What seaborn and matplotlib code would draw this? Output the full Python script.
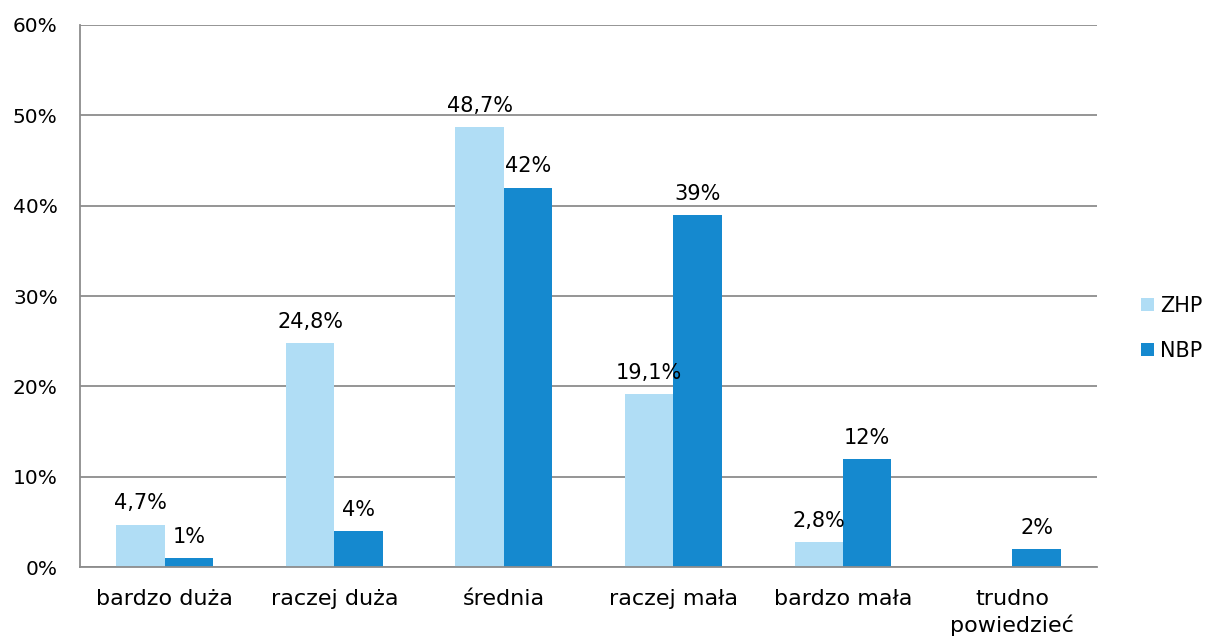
import numpy as np
import pandas as pd
import matplotlib
matplotlib.use("Agg")
import matplotlib.pyplot as plt
import seaborn as sns

# Data
categories = ["bardzo duża", "raczej duża", "średnia", "raczej mała", "bardzo mała", "trudno\npowiedzieć"]
zhp = [4.7, 24.8, 48.7, 19.1, 2.8, np.nan]
nbp = [1, 4, 42, 39, 12, 2]
series = ["ZHP", "NBP"]
colors = ["#B0DDF5", "#1589CF"]

df = pd.DataFrame({
    "kategoria": categories * 2,
    "seria": ["ZHP"] * len(categories) + ["NBP"] * len(categories),
    "wartosc": zhp + nbp,
})

sns.set_style("white")
plt.rcParams["font.family"] = ["DejaVu Sans"]
plt.rcParams["text.color"] = "black"
plt.rcParams["xtick.color"] = "black"
plt.rcParams["ytick.color"] = "black"
grey = "#8C8C8C"

fig = plt.figure(figsize=(12.08, 6.41), dpi=100)
ax = fig.add_axes([0.0662, 0.1154, 0.842, 0.8456])

sns.barplot(data=df, x="kategoria", y="wartosc", hue="seria", hue_order=series,
            palette=colors, width=0.57, ax=ax, saturation=1, errorbar=None,
            linewidth=0, legend=True)

# data labels with decimal comma
for cont in ax.containers:
    for bar in cont:
        h = bar.get_height()
        if np.isnan(h):
            continue
        txt = (f"{h:.1f}" if h != int(h) else f"{int(h)}").replace(".", ",") + "%"
        ax.annotate(txt, (bar.get_x() + bar.get_width() / 2, h), xytext=(0, 8),
                    textcoords="offset points", ha="center", va="bottom", fontsize=15)

ax.set_ylim(0, 60)
ax.set_xlim(-0.5, 5.5)
ax.set_yticks(range(0, 61, 10))
ax.set_yticklabels([f"{v}%" for v in range(0, 61, 10)], fontsize=14.5)
ax.yaxis.grid(True, color=grey, linewidth=1.3)
ax.set_axisbelow(True)
ax.set_xlabel("")
ax.set_ylabel("")

ax.tick_params(axis="x", which="major", length=0, pad=16, labelsize=16)
ax.set_xticks(np.arange(-0.5, 6, 1), minor=True)
ax.tick_params(axis="x", which="minor", length=7, color=grey, width=1.3, direction="out")
ax.tick_params(axis="y", length=7, color=grey, width=1.3, pad=9)
for t in ax.get_xticklabels():
    t.set_linespacing(1.3)

for s in ["top", "right"]:
    ax.spines[s].set_visible(False)
for s in ["left", "bottom"]:
    ax.spines[s].set_color(grey)
    ax.spines[s].set_linewidth(1.3)

ax.legend(loc="center left", bbox_to_anchor=(1.025, 0.44), frameon=False, fontsize=15,
          handlelength=0.6, handleheight=0.6, handletextpad=0.3, labelspacing=1.2)

fig.savefig("out.png", dpi=100)
